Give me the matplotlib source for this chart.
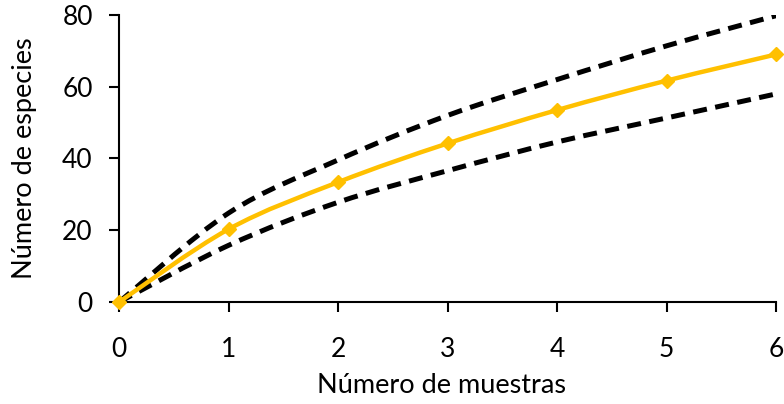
import matplotlib
matplotlib.use("Agg")
import matplotlib.pyplot as plt
from matplotlib.path import Path
from matplotlib.patches import PathPatch

# Species accumulation curve with upper/lower bounds
muestras = [0, 1, 2, 3, 4, 5, 6]
especies = [0, 20.3, 33.4, 44.2, 53.5, 61.7, 69.0]
limite_sup = [0, 24.8, 39.6, 52.0, 62.0, 71.4, 79.8]
limite_inf = [0, 15.8, 27.8, 36.6, 44.6, 51.3, 58.0]


def smooth_path(xs, ys):
    # cubic Bezier through the points (Catmull-Rom style, like a spreadsheet "smoothed line")
    pts = list(zip(xs, ys))
    n = len(pts)
    verts = [pts[0]]
    codes = [Path.MOVETO]
    for i in range(n - 1):
        p0 = pts[i - 1] if i > 0 else pts[i]
        p1 = pts[i]
        p2 = pts[i + 1]
        p3 = pts[i + 2] if i + 2 < n else pts[i + 1]
        c1 = (p1[0] + (p2[0] - p0[0]) / 6, p1[1] + (p2[1] - p0[1]) / 6)
        c2 = (p2[0] - (p3[0] - p1[0]) / 6, p2[1] - (p3[1] - p1[1]) / 6)
        verts += [c1, c2, p2]
        codes += [Path.CURVE4] * 3
    return Path(verts, codes)


plt.rcParams['font.family'] = ['Lato', 'DejaVu Sans']

fig = plt.figure(figsize=(7.84, 4.04), dpi=100)
ax = fig.add_axes([0.152, 0.2525, 0.838, 0.7105])

dash = (0, (2.8, 1.7))
for serie in (limite_sup, limite_inf):
    ax.add_patch(PathPatch(smooth_path(muestras, serie), fill=False, edgecolor='black',
                           lw=3.6, linestyle=dash, zorder=2))
ax.add_patch(PathPatch(smooth_path(muestras, especies), fill=False, edgecolor='#FFC000',
                       lw=3.2, zorder=3, clip_on=False))
ax.plot(muestras, especies, color='#FFC000', linestyle='none', marker='D', markersize=7,
        zorder=4, clip_on=False)

ax.set_xlim(0, 6)
ax.set_ylim(0, 80)
ax.set_xticks(range(0, 7))
ax.set_yticks(range(0, 81, 20))

for s in ['top', 'right']:
    ax.spines[s].set_visible(False)
for s in ['left', 'bottom']:
    ax.spines[s].set_linewidth(1.5)

ax.tick_params(axis='both', direction='out', length=7, width=1.5, labelsize=19)
ax.tick_params(axis='x', pad=18)
ax.tick_params(axis='y', pad=12)

ax.set_xlabel('Número de muestras', fontsize=19.5)
ax.set_ylabel('Número de especies', fontsize=19.5, labelpad=18)
ax.xaxis.set_label_coords(0.49, -0.248)

fig.savefig('out.png', dpi=100)
